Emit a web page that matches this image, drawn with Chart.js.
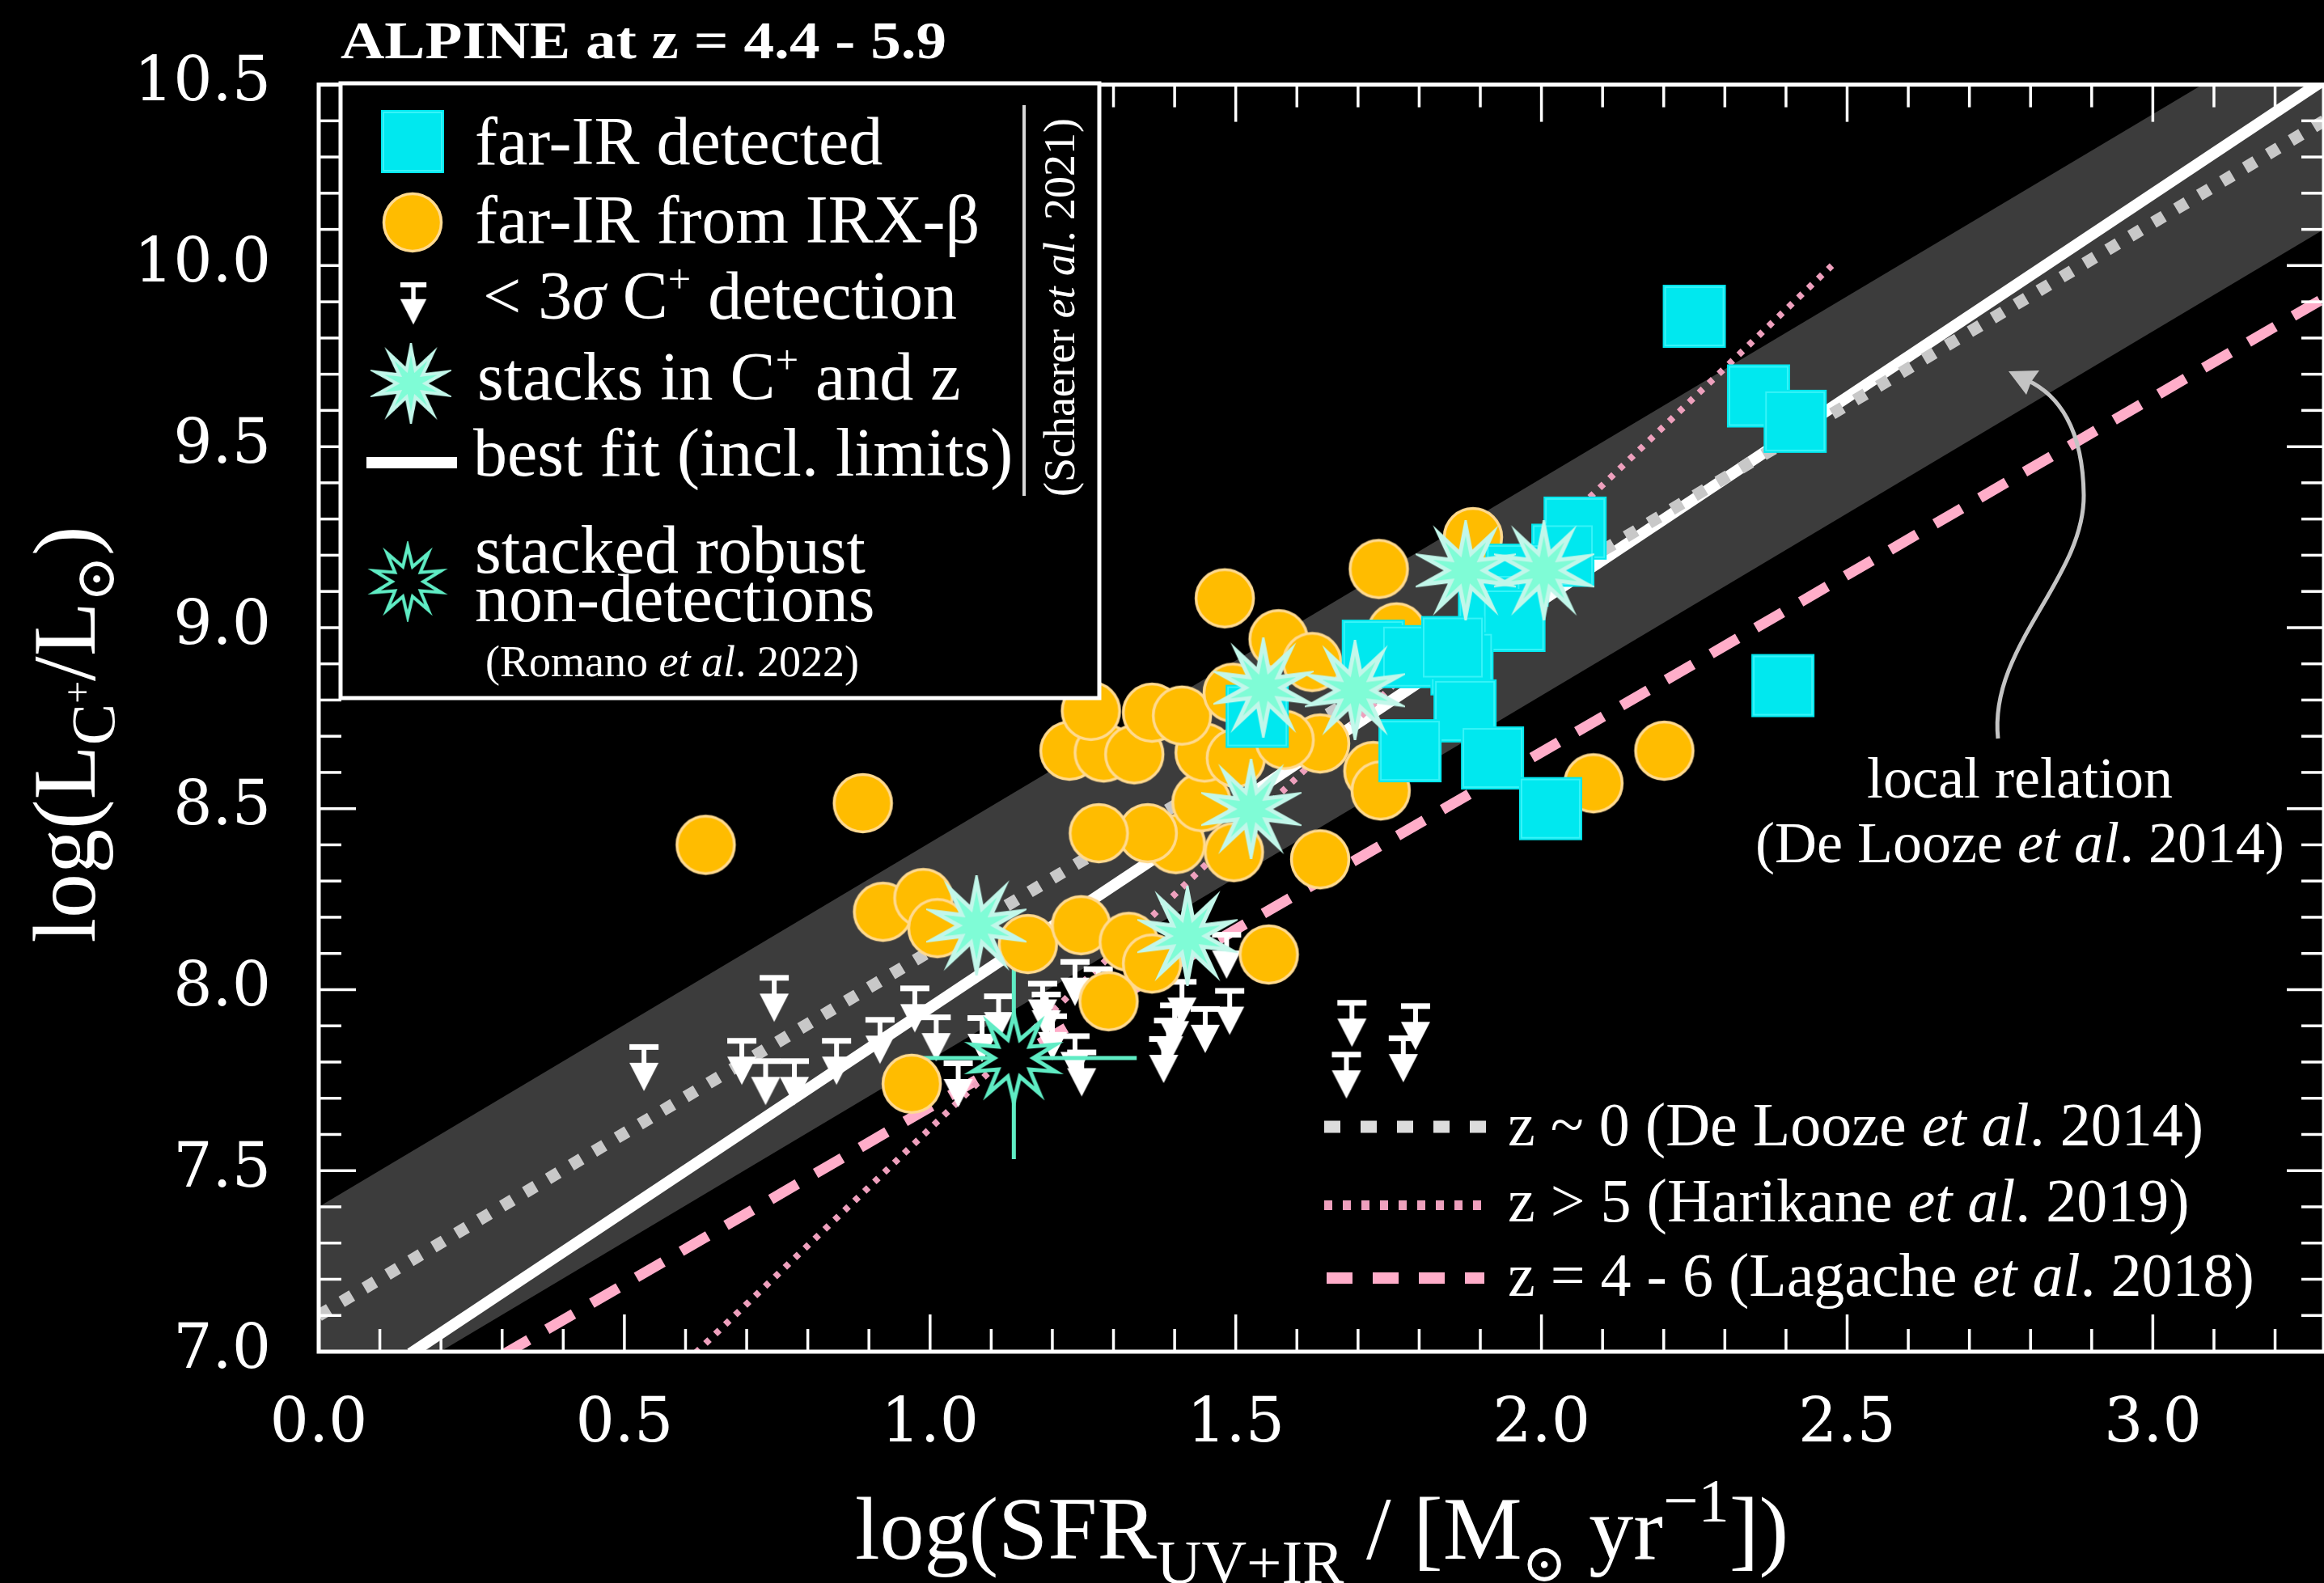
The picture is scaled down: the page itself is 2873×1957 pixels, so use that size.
<!DOCTYPE html>
<html>
<head>
<meta charset="utf-8">
<title>ALPINE [CII] – SFR relation</title>
<script src="https://cdn.jsdelivr.net/npm/chart.js@4.4.1/dist/chart.umd.min.js"></script>
<style>
  html, body { margin: 0; padding: 0; background: #000; overflow: hidden; }
  canvas { display: block; }
</style>
</head>
<body>
<canvas id="chart" width="2873" height="1957"></canvas>
<script>
// ---------------- data ----------------
// log SFR (x) and log L_[CII] (y)

// far-IR detected galaxies
const firX = [2.250, 2.355, 2.415, 2.395, 2.055, 2.035, 1.960, 1.915, 1.955, 1.725, 1.790, 1.870, 1.875, 1.785, 1.920, 2.015, 1.535, 1.855];
const firY = [9.860, 9.640, 9.570, 8.840, 9.275, 9.200, 9.145, 9.060, 9.020, 8.935, 8.920, 8.900, 8.770, 8.660, 8.640, 8.500, 8.755, 8.945];

// far-IR estimated from IRX-beta
const irxX = [0.633, 0.890, 0.923, 0.989, 1.012, 0.970, 1.160, 1.247, 1.325, 1.363, 1.292, 1.554, 1.638, 1.497, 1.402, 1.356, 1.276, 1.444, 1.228, 1.284, 1.334, 1.449, 1.500, 1.638, 1.263, 1.363, 1.412, 1.495, 1.570, 1.625, 1.482, 1.734, 1.888, 1.763, 1.725, 1.737, 2.085, 2.201, 1.580];
const irxY = [8.400, 8.515, 8.215, 8.253, 8.170, 7.740, 8.126, 8.178, 8.132, 8.072, 7.968, 8.097, 8.360, 8.380, 8.402, 8.432, 8.432, 8.518, 8.660, 8.655, 8.650, 8.655, 8.640, 8.680, 8.770, 8.765, 8.757, 8.820, 8.968, 8.905, 9.081, 9.162, 9.250, 8.987, 8.604, 8.550, 8.570, 8.660, 8.690];

// < 3 sigma [CII] upper limits
const limX = [0.532, 0.745, 0.692, 0.731, 0.778, 0.847, 0.918, 0.975, 1.010, 1.046, 1.085, 1.112, 1.190, 1.200, 1.237, 1.248, 1.237, 1.184, 1.400, 1.390, 1.382, 1.412, 1.490, 1.485, 1.450, 1.690, 1.681, 1.794, 1.774, 1.275];
const limY = [7.845, 8.036, 7.862, 7.806, 7.806, 7.862, 7.920, 8.007, 7.927, 7.800, 7.925, 7.985, 7.990, 7.930, 8.080, 7.830, 7.875, 8.020, 7.960, 7.918, 7.867, 8.025, 8.000, 8.155, 7.950, 7.967, 7.824, 7.958, 7.869, 8.060];

// stacks in [CII] and redshift
const stackX = [1.076, 1.421, 1.525, 1.545, 1.695, 1.876, 2.004];
const stackY = [8.177, 8.148, 8.499, 8.834, 8.827, 9.158, 9.158];

// stacked robust non-detections, with error bar ends
const robustX = [1.137];
const robustY = [7.811];
const robustXLo = [0.956];
const robustXHi = [1.338];
const robustYLo = [7.532];
const robustYHi = [8.068];

// relations (end points)
const fitX = [0.15, 3.28];        const fitY = [6.995, 10.513];   // best fit incl. limits
const localX = [0.0, 3.28];       const localY = [7.10, 10.40];   // z ~ 0, De Looze 2014
const bandX = [0.0, 3.28];        const bandHi = [7.40, 10.70];   const bandLo = [6.80, 10.10];
const lagacheX = [0.30, 3.28];    const lagacheY = [6.99, 9.91];  // z = 4-6
const harikaneX = [0.60, 2.475];  const harikaneY = [6.97, 10.00];// z > 5

// axis ticks
const xTicks = [0.0, 0.5, 1.0, 1.5, 2.0, 2.5, 3.0];
const yTicks = [7.0, 7.5, 8.0, 8.5, 9.0, 9.5, 10.0, 10.5];

// ---------------- styling ----------------
const SERIF = '"Liberation Serif", "DejaVu Serif", serif';
const TICKFONT = '"DejaVu Serif", serif';
const CYAN = '#00e8ef';
const ORANGE = '#ffbc00';
const ORANGE_EDGE = '#ffda90';
const AQUA = '#7ffcd6';
const AQUA_EDGE = '#c2f7ea';
const AQUA_DARK = '#5fecc4';
const PINK = '#ffadc9';
const PINK_DOT = '#eea0bd';
const GREY_DOT = '#c8c8c8';
const BAND = '#3c3c3c';

function makeCanvas(w, h, draw) {
  const c = document.createElement('canvas');
  c.width = w; c.height = h;
  draw(c.getContext('2d'), w, h);
  return c;
}
function starPath(g, cx, cy, n, ro, ri) {
  g.beginPath();
  for (let i = 0; i < 2 * n; i++) {
    const r = i % 2 ? ri : ro;
    const a = -Math.PI / 2 + i * Math.PI / n;
    const px = cx + r * Math.cos(a), py = cy + r * Math.sin(a);
    if (i) g.lineTo(px, py); else g.moveTo(px, py);
  }
  g.closePath();
}

const squareImg = makeCanvas(80, 80, g => {
  g.fillStyle = CYAN; g.fillRect(1, 1, 78, 78);
  g.strokeStyle = '#37f3f8'; g.lineWidth = 2; g.strokeRect(4, 4, 72, 72);
});
const circleImg = makeCanvas(80, 80, g => {
  g.beginPath(); g.arc(40, 40, 35.5, 0, Math.PI * 2);
  g.fillStyle = ORANGE; g.fill();
  g.lineWidth = 3.5; g.strokeStyle = ORANGE_EDGE; g.stroke();
});
const starImg = makeCanvas(124, 124, g => {
  starPath(g, 62, 62, 10, 56, 22);
  g.fillStyle = AQUA; g.fill();
  g.lineJoin = 'miter'; g.lineWidth = 5; g.strokeStyle = AQUA_EDGE; g.stroke();
});
const darkStarImg = makeCanvas(124, 124, g => {
  starPath(g, 62, 62, 10, 54, 24);
  g.fillStyle = '#000'; g.fill();
  g.lineJoin = 'miter'; g.lineWidth = 5; g.strokeStyle = AQUA_DARK; g.stroke();
});
// upper limit: bar sits on the canvas centre line, arrow points down
const arrowImg = makeCanvas(40, 116, g => {
  g.fillStyle = '#fff';
  g.fillRect(2, 56, 36, 7);
  g.fillRect(17, 63, 6, 17);
  g.beginPath(); g.moveTo(2, 79); g.lineTo(38, 79); g.lineTo(20, 114); g.closePath(); g.fill();
});

const pts = (xs, ys) => xs.map((x, i) => ({ x, y: ys[i] }));

// ---------------- text helper ----------------
function runFont(r, base) {
  const size = (r.size || 1) * base.size;
  return `${r.italic ? 'italic ' : ''}${(r.bold || base.bold) ? 'bold ' : ''}${size}px ${base.family || SERIF}`;
}
function drawRich(ctx, runs, x, y, base) {
  ctx.save();
  const widths = runs.map(r => { ctx.font = runFont(r, base); return ctx.measureText(r.t).width; });
  const sx = base.sx || 1;
  const total = widths.reduce((a, b) => a + b, 0);
  let start = x;
  if (base.align === 'center') start = x - total * sx / 2;
  else if (base.align === 'right') start = x - total * sx;
  ctx.translate(start, y);
  ctx.scale(sx, 1);
  ctx.fillStyle = base.color || '#fff';
  ctx.textAlign = 'left';
  ctx.textBaseline = 'alphabetic';
  let cx = 0;
  runs.forEach((r, i) => {
    ctx.font = runFont(r, base);
    ctx.fillText(r.t, cx, (r.dy || 0) * base.size);
    cx += widths[i];
  });
  ctx.restore();
}

// ---------------- plugins ----------------
const background = {
  id: 'background',
  beforeDraw(chart) {
    const { ctx, width, height } = chart;
    ctx.save(); ctx.fillStyle = '#000'; ctx.fillRect(0, 0, width, height); ctx.restore();
  }
};

// inward ticks on all four sides plus the frame
const axisDecor = {
  id: 'axisDecor',
  afterDatasetsDraw(chart) {
    const { ctx, chartArea: a, scales: { x, y } } = chart;
    ctx.save();
    ctx.strokeStyle = '#fff';
    ctx.lineWidth = 3.5;
    const seg = (x1, y1, x2, y2) => { ctx.beginPath(); ctx.moveTo(x1, y1); ctx.lineTo(x2, y2); ctx.stroke(); };
    for (let i = 0; i * 0.1 <= x.max + 1e-9; i++) {
      const px = x.getPixelForValue(i / 10);
      const L = i % 5 === 0 ? 46 : 28;
      seg(px, a.bottom, px, a.bottom - L);
      seg(px, a.top, px, a.top + L);
    }
    for (let i = 70; i <= 105; i++) {
      const py = y.getPixelForValue(i / 10);
      const L = i % 5 === 0 ? 46 : 28;
      seg(a.left, py, a.left + L, py);
      seg(a.right, py, a.right - L, py);
    }
    ctx.lineWidth = 5;
    ctx.strokeRect(a.left, a.top, a.right - a.left, a.bottom - a.top);
    ctx.restore();
  }
};

const overlays = {
  id: 'overlays',
  afterDraw(chart) {
    const { ctx } = chart;
    ctx.save();

    // title
    drawRich(ctx, [{ t: 'ALPINE at z = 4.4 - 5.9' }], 421, 72, { size: 66, bold: true, sx: 1.14 });

    // main legend box
    ctx.fillStyle = '#000';
    ctx.fillRect(421, 103, 938, 760);
    ctx.strokeStyle = '#fff'; ctx.lineWidth = 5;
    ctx.strokeRect(421, 103, 938, 760);

    ctx.drawImage(squareImg, 470, 135);
    ctx.drawImage(circleImg, 470, 235);
    ctx.drawImage(arrowImg, 511 - 18, 349 - 56 * 0.9, 40 * 0.9, 116 * 0.9);
    ctx.drawImage(starImg, 508 - 50, 474 - 50, 100, 100);
    ctx.fillStyle = '#fff'; ctx.fillRect(453, 565, 112, 14);
    ctx.drawImage(darkStarImg, 504 - 50, 719 - 50, 100, 100);

    const lb = { size: 84 };
    drawRich(ctx, [{ t: 'far-IR detected' }], 587, 203, lb);
    drawRich(ctx, [{ t: 'far-IR from IRX-β' }], 587, 300, lb);
    drawRich(ctx, [{ t: '< 3' }, { t: 'σ', italic: true }, { t: ' C' }, { t: '+', size: 0.6, dy: -0.38 }, { t: ' detection' }], 597, 394, lb);
    drawRich(ctx, [{ t: 'stacks in C' }, { t: '+', size: 0.6, dy: -0.38 }, { t: ' and z' }], 590, 494, lb);
    drawRich(ctx, [{ t: 'best fit (incl. limits)' }], 585, 588, lb);
    drawRich(ctx, [{ t: 'stacked robust' }], 587, 708, lb);
    drawRich(ctx, [{ t: 'non-detections' }], 587, 768, lb);
    drawRich(ctx, [{ t: '(Romano ' }, { t: 'et al', italic: true }, { t: '. 2022)' }], 600, 836, { size: 54 });

    ctx.fillStyle = '#d8d8d8'; ctx.fillRect(1264, 130, 4, 483);
    ctx.save();
    ctx.translate(1328, 380);
    ctx.rotate(-Math.PI / 2);
    drawRich(ctx, [{ t: '(Schaerer ' }, { t: 'et al', italic: true }, { t: '. 2021)' }], 0, 0, { size: 54, align: 'center' });
    ctx.restore();

    // relations legend (lower right)
    ctx.lineCap = 'butt';
    ctx.lineWidth = 15; ctx.strokeStyle = '#dcdcdc'; ctx.setLineDash([20, 25]);
    ctx.beginPath(); ctx.moveTo(1637, 1393); ctx.lineTo(1840, 1393); ctx.stroke();
    ctx.lineWidth = 12; ctx.strokeStyle = PINK_DOT; ctx.setLineDash([10, 13]);
    ctx.beginPath(); ctx.moveTo(1637, 1490); ctx.lineTo(1835, 1490); ctx.stroke();
    ctx.lineWidth = 14; ctx.strokeStyle = PINK; ctx.setLineDash([32, 25]);
    ctx.beginPath(); ctx.moveTo(1640, 1580); ctx.lineTo(1835, 1580); ctx.stroke();
    ctx.setLineDash([]);
    const rb = { size: 76 };
    drawRich(ctx, [{ t: 'z ~ 0 (De Looze ' }, { t: 'et al', italic: true }, { t: '. 2014)' }], 1864, 1416, rb);
    drawRich(ctx, [{ t: 'z > 5 (Harikane ' }, { t: 'et al', italic: true }, { t: '. 2019)' }], 1864, 1510, rb);
    drawRich(ctx, [{ t: 'z = 4 - 6 (Lagache ' }, { t: 'et al', italic: true }, { t: '. 2018)' }], 1864, 1602, rb);

    // annotation for the local relation
    ctx.strokeStyle = '#c4c4c4'; ctx.fillStyle = '#c4c4c4'; ctx.lineWidth = 5;
    ctx.beginPath();
    ctx.moveTo(2470, 913);
    ctx.bezierCurveTo(2458, 800, 2577, 715, 2576, 612);
    ctx.bezierCurveTo(2575, 530, 2545, 488, 2506, 470);
    ctx.stroke();
    ctx.beginPath();
    ctx.moveTo(2483, 459); ctx.lineTo(2521, 458); ctx.lineTo(2511, 472); ctx.lineTo(2505, 488); ctx.closePath(); ctx.fill();
    drawRich(ctx, [{ t: 'local relation' }], 2497, 986, { size: 72, align: 'center' });
    drawRich(ctx, [{ t: '(De Looze ' }, { t: 'et al', italic: true }, { t: '. 2014)' }], 2497, 1066, { size: 72, align: 'center' });

    // axis titles
    drawRich(ctx, [
      { t: 'log(SFR' }, { t: 'UV+IR', size: 0.7, dy: 0.27 }, { t: ' / [M' },
      { t: '⊙', size: 0.6, dy: 0.25 }, { t: ' yr' }, { t: '−1', size: 0.7, dy: -0.42 }, { t: '])' }
    ], 1634, 1927, { size: 110, align: 'center' });

    ctx.save();
    ctx.translate(117, 908);
    ctx.rotate(-Math.PI / 2);
    drawRich(ctx, [
      { t: 'log(L' }, { t: 'C', size: 0.7, dy: 0.22 }, { t: '+', size: 0.45, dy: -0.05 },
      { t: '/L' }, { t: '⊙', size: 0.62, dy: 0.22 }, { t: ')' }
    ], 0, 0, { size: 110, align: 'center' });
    ctx.restore();

    ctx.restore();
  }
};

// ---------------- chart ----------------
const clear = 'rgba(0,0,0,0)';
new Chart(document.getElementById('chart'), {
  type: 'scatter',
  data: {
    datasets: [
      { label: 'stacked robust non-detections', data: pts(robustX, robustY), pointStyle: darkStarImg, pointRadius: 40, order: 1 },
      { label: 'stacks in C+ and z', data: pts(stackX, stackY), pointStyle: starImg, pointRadius: 40, order: 2 },
      { label: 'far-IR detected', data: pts(firX, firY), pointStyle: squareImg, pointRadius: 40, order: 3 },
      { label: 'far-IR from IRX-β', data: pts(irxX, irxY), pointStyle: circleImg, pointRadius: 40, order: 4 },
      { label: 'robust x error', type: 'line', data: [{ x: robustXLo[0], y: robustY[0] }, { x: robustXHi[0], y: robustY[0] }],
        borderColor: AQUA_DARK, borderWidth: 5, pointRadius: 0, fill: false, order: 5 },
      { label: 'robust y error', type: 'line', data: [{ x: robustX[0], y: robustYLo[0] }, { x: robustX[0], y: robustYHi[0] }],
        borderColor: AQUA_DARK, borderWidth: 5, pointRadius: 0, fill: false, order: 5 },
      { label: '< 3σ C+ detection', data: pts(limX, limY), pointStyle: arrowImg, pointRadius: 40, order: 6 },
      { label: 'z > 5 (Harikane et al. 2019)', type: 'line', data: pts(harikaneX, harikaneY),
        borderColor: PINK_DOT, borderWidth: 8, borderDash: [7, 10], pointRadius: 0, fill: false, order: 7 },
      { label: 'z = 4 - 6 (Lagache et al. 2018)', type: 'line', data: pts(lagacheX, lagacheY),
        borderColor: PINK, borderWidth: 13, borderDash: [38, 26], pointRadius: 0, fill: false, order: 8 },
      { label: 'z ~ 0 (De Looze et al. 2014)', type: 'line', data: pts(localX, localY),
        borderColor: GREY_DOT, borderWidth: 15, borderDash: [15, 18], pointRadius: 0, fill: false, order: 9 },
      { label: 'best fit (incl. limits)', type: 'line', data: pts(fitX, fitY),
        borderColor: '#ffffff', borderWidth: 14, pointRadius: 0, fill: false, order: 10 },
      { label: 'local relation dispersion', type: 'line', data: pts(bandX, bandHi),
        borderColor: clear, borderWidth: 0, backgroundColor: BAND, pointRadius: 0, fill: '+1', order: 11 },
      { label: 'local relation dispersion (lower)', type: 'line', data: pts(bandX, bandLo),
        borderColor: clear, borderWidth: 0, pointRadius: 0, fill: false, order: 12 }
    ]
  },
  options: {
    responsive: false,
    animation: false,
    devicePixelRatio: 1,
    events: [],
    layout: { padding: { left: 0, top: 104, right: -3, bottom: 0 }, autoPadding: false },
    plugins: { legend: { display: false }, tooltip: { enabled: false } },
    scales: {
      x: {
        type: 'linear', position: 'bottom', min: 0, max: 3.28,
        afterBuildTicks: s => { s.ticks = xTicks.map(v => ({ value: v })); },
        afterFit: s => { s.height = 286; },
        grid: { display: false, drawTicks: false },
        border: { display: false },
        ticks: { color: '#fff', font: { family: TICKFONT, size: 76 }, padding: 46, maxRotation: 0, autoSkip: false,
                 callback: v => Number(v).toFixed(1) }
      },
      y: {
        type: 'linear', position: 'left', min: 7, max: 10.5,
        afterBuildTicks: s => { s.ticks = yTicks.map(v => ({ value: v })); },
        afterFit: s => { s.width = 394; },
        grid: { display: false, drawTicks: false },
        border: { display: false },
        ticks: { color: '#fff', font: { family: TICKFONT, size: 76 }, padding: 59, autoSkip: false,
                 callback: v => Number(v).toFixed(1) }
      }
    }
  },
  plugins: [background, axisDecor, overlays]
});
</script>
</body>
</html>
